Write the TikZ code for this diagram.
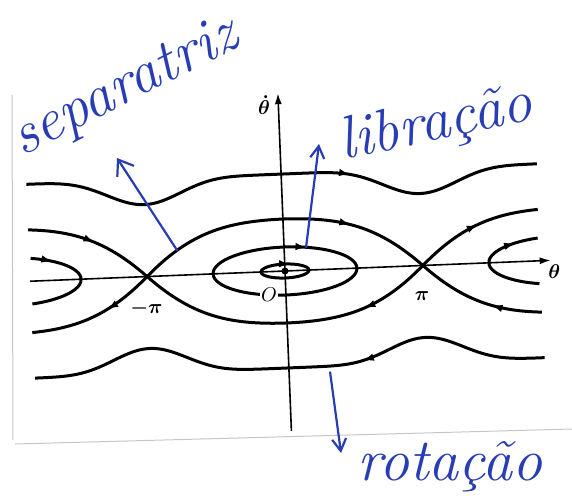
\documentclass[tikz,border=0pt]{standalone}
\usepackage{amsmath,amssymb}
\usepackage{xcolor}
\usetikzlibrary{arrows.meta, positioning, decorations.markings}
\definecolor{pen}{RGB}{40,60,180}
\tikzset{
  orbit/.style={line width=1.5pt, black},
  axisline/.style={line width=0.8pt, -{Latex[length=5.5pt,width=3.5pt]}},
  flow/.style={postaction={decorate, decoration={markings, mark=at position #1 with {\arrow{Latex[length=5.5pt,width=3.8pt]}}}}},
  ink/.style={pen, line width=1.1pt, line cap=round, line join=round},
  inkarrow/.style={ink, -{Straight Barb[length=7pt,width=10pt]}},
  note/.style={pen, font=\fontsize{30}{32}\selectfont\itshape, inner sep=0pt},
  lbl/.style={font=\normalsize, inner sep=1pt},
  pageedge/.style={gray!45, line width=0.5pt},
  declare function={
    hc(\u)=abs(cos(\u*0.6522));
    sep(\u)=52*hc(\u)*(1.6-0.6*hc(\u));
    hs(\u)=(1-cos(\u*1.3043))/2;
    rot(\u)=97-25*hs(\u)*hs(\u)*hs(\u);
  }
}

\begin{document}
\begin{tikzpicture}[x=0.5pt, y=0.5pt]
\useasboundingbox (0,0) rectangle (572,495);
% scanned page edges
\draw[pageedge] (12,400) -- (13,55);
\draw[pageedge] (15,51) -- (572,66);

\begin{scope}[shift={(285,224)}, rotate=2.3]
% axes
\coordinate (thL) at (-255,0);
\coordinate (thR) at (266,0);
\coordinate (dthB) at (0,-160);
\coordinate (dthT) at (0,178);
\draw[axisline] (thL) -- (thR);
\draw[axisline] (dthB) -- (dthT);
\node[lbl, anchor=north west] (thlab) at (261,-2) {$\boldsymbol{\theta}$};
\node[lbl, anchor=east] (dthlab) at (-6,166) {$\boldsymbol{\dot{\theta}}$};

% rotation
\draw[orbit, flow=0.63] plot[domain=-255:256, samples=200] (\x,{rot(\x)});
\draw[orbit, flow=0.36] plot[domain=256:-254, samples=200] (\x,{-rot(\x)});

% separatrix
\draw[orbit, flow=0.12, flow=0.62, flow=0.89] plot[domain=-255:255, samples=341] (\x,{sep(\x)});
\draw[orbit, flow=0.09, flow=0.36, flow=0.86] plot[domain=255:-255, samples=341] (\x,{-sep(\x)});

% libration
\draw[orbit, flow=0.32] (-72,0) arc[start angle=180, end angle=-180, x radius=72, y radius=24];
\draw[orbit, flow=0.30] (-24,0) arc[start angle=180, end angle=-180, x radius=24, y radius=7];
\draw[orbit, flow=0.19] (-276,0) ++(72:72 and 24) arc[start angle=72, end angle=-72, x radius=72, y radius=24];
\draw[orbit, flow=0.80] (276,0) ++(252:72 and 24) arc[start angle=252, end angle=108, x radius=72, y radius=24];
\fill (0,0) circle[radius=3.5];

\node[lbl] (mpi) at (-140,-32) {$\boldsymbol{-\pi}$};
\node[lbl] (ppi) at (136,-31) {$\boldsymbol{\pi}$};
\node[lbl, fill=white, inner sep=0.5pt] (O) at (-17,-23) {$O$};

\coordinate (sepP) at (-107,{sep(-107)});
\coordinate (libP) at (22,23);
\coordinate (rotP) at (41,-103);
\end{scope}

% handwritten notes
\coordinate (sepTip) at (117,337);
\coordinate (libTip) at (319,351);
\coordinate (rotTip) at (341,42);
\draw[inkarrow] (sepP) -- (sepTip);
\draw[ink, -{Straight Barb[length=6pt,width=7pt]}] (libP) -- (libTip);
\draw[ink, -{Straight Barb[length=6pt,width=7pt]}] (rotP) -- (rotTip);

\node[note, rotate=27, anchor=base west] (sepNote) at (22,338) {separatriz};
\node[note, rotate=12, anchor=base west] (libNote) at (343,335) {libração};
\node[note, anchor=base west] (rotNote) at (357,15) {rotação};
\end{tikzpicture}
\end{document}
